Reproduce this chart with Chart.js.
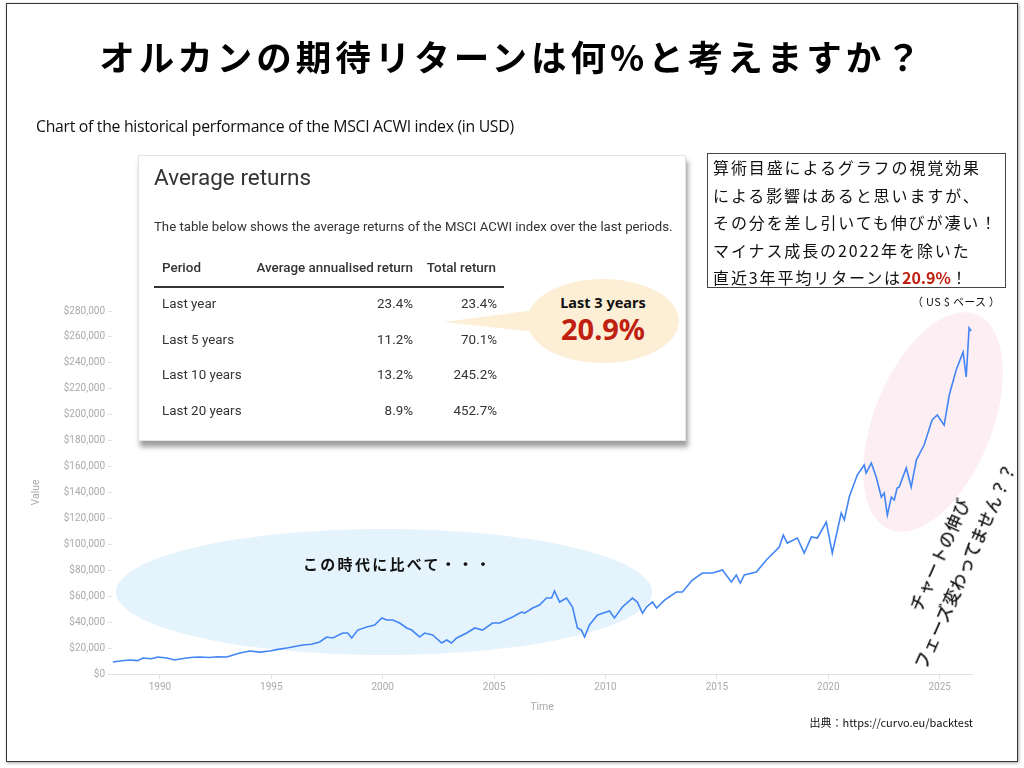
<!DOCTYPE html>
<html>
<head>
<meta charset="utf-8">
<script src="https://cdn.jsdelivr.net/npm/chart.js@4.4.1/dist/chart.umd.min.js"></script>
<style>
  body { margin: 0; background: #fff; }
  #page { position: relative; width: 1024px; height: 768px; overflow: hidden; background: #fff; }
  #frame { position: absolute; left: 6px; top: 3px; width: 1010px; height: 757px; border: 1.5px solid #333; box-shadow: 1px 1px 3px rgba(0,0,0,0.35); }
  #grafico { position: absolute; left: 0; top: 0; z-index: 1; }
  .jp { font-family: "Noto Sans CJK JP", sans-serif; }
  .over { position: absolute; z-index: 2; }
  .ellipse { position: absolute; border-radius: 50%; z-index: 0; }
  #titulo { left: 0; width: 1024px; top: 30px; text-align: center; font-size: 35.5px; font-weight: 700; letter-spacing: 4px; color: #000; }
  #subtitulo { left: 36px; top: 115px; font-family: "Open Sans", sans-serif; font-size: 15.8px; color: #111; letter-spacing: -0.3px; }
  #tabela { left: 138px; top: 155px; width: 546px; height: 284px; background: #fff; border: 1px solid #e4e4e4;
    box-shadow: 2px 6px 5px rgba(0,0,0,0.38); font-family: Roboto, sans-serif; color: #333; }
  #tabela .h { position: absolute; left: 15px; top: 8px; font-size: 22.5px; color: #333; }
  #tabela .d { position: absolute; left: 15px; top: 63px; font-size: 13.2px; }
  #tabela .c { position: absolute; font-size: 13.4px; white-space: nowrap; }
  #tabela .r { text-align: right; }
  #callout { left: 527px; top: 279px; width: 152px; height: 84px; background: #fdefd6; border-radius: 50%; z-index: 3; }
  #cauda { left: 440px; top: 305px; z-index: 3; }
  #caixa { left: 707px; top: 153px; width: 299px; height: 135px; border: 1.5px solid #444; background: #fff; font-size: 16px; letter-spacing: 1.9px; line-height: 27.6px; padding: 0 0 0 5px; box-sizing: border-box; color: #111; }
  .verm { color: #c0200f; font-weight: 700; letter-spacing: 0; }
  #rodape { right: 51px; top: 714px; font-size: 11px; color: #111; }
</style>
</head>
<body>
<div id="page">
  <div id="frame"></div>
  <div class="ellipse" style="left:116px; top:529px; width:536px; height:126px; background:#e5f3fd;"></div>
  <div class="ellipse" style="left:874px; top:306px; width:118px; height:232px; background:#fdeef4; transform: rotate(22deg);"></div>
  <canvas id="grafico" width="1024" height="768"></canvas>

  <div id="titulo" class="over jp">オルカンの期待リターンは何%と考えますか？</div>
  <div id="subtitulo" class="over">Chart of the historical performance of the MSCI ACWI index (in USD)</div>

  <div id="tabela" class="over"></div>

  <svg id="cauda" class="over" width="100" height="40"><polygon points="3,17 95,5 95,27" fill="#fdefd6"/></svg>
  <div id="callout" class="over">
    <div style="position:absolute;left:0;width:152px;top:13px;text-align:center;font-family:'Noto Sans',sans-serif;font-weight:700;font-size:14.5px;color:#111;">Last 3 years</div>
    <div style="position:absolute;left:0;width:152px;top:30px;text-align:center;font-family:'Noto Sans',sans-serif;font-weight:700;font-size:29px;color:#c0200f;">20.9%</div>
  </div>

  <div id="caixa" class="over jp">算術目盛によるグラフの視覚効果<br>による影響はあると思いますが、<br>その分を差し引いても伸びが凄い！<br>マイナス成長の2022年を除いた<br>直近3年平均リターンは<span class="verm">20.9%</span>！</div>
  <div class="over jp" style="left:912px; top:293px; font-size:11px; color:#111; letter-spacing:0.3px;">（ US $ ベース ）</div>

  <div class="over jp" style="left:303px; top:553px; font-size:15px; font-weight:700; letter-spacing:2.3px; color:#111;">この時代に比べて・・・</div>

  <div class="over jp" style="left:802px; top:532px; width:300px; text-align:center; font-size:16.5px; font-weight:500; line-height:28px; letter-spacing:0.9px; color:#111; transform: rotate(-66deg);">チャートの伸び<br>フェーズ変わってません？？</div>

  <div id="rodape" class="over jp">出典：https://curvo.eu/backtest</div>
</div>

<script>
// MSCI ACWI (USD): ano decimal e valor
const anos = [1987.89, 1988.3, 1988.65, 1989.0, 1989.24, 1989.6, 1989.91, 1990.31, 1990.67, 1990.9, 1991.21, 1991.5, 1991.79,
  1992.2, 1992.6, 1993.0, 1993.59, 1994.04, 1994.5, 1994.93, 1995.3, 1995.7, 1996.41, 1996.8, 1997.17, 1997.49, 1997.76,
  1998.21, 1998.43, 1998.61, 1998.88, 1999.28, 1999.64, 1999.96, 2000.18, 2000.45, 2000.76, 2001.08, 2001.3, 2001.66,
  2001.88, 2002.24, 2002.65, 2002.87, 2003.09, 2003.32, 2003.77, 2004.13, 2004.48, 2004.93,
  2005.25, 2005.83, 2006.23, 2006.37, 2006.73, 2007.04, 2007.35, 2007.58, 2007.71, 2007.94,
  2008.25, 2008.52, 2008.74, 2008.92, 2009.06, 2009.28, 2009.64, 2010.18, 2010.4, 2010.76,
  2011.21, 2011.43, 2011.66, 2011.84, 2012.11, 2012.29, 2012.65, 2013.18, 2013.45, 2013.9,
  2014.35, 2014.8, 2015.25, 2015.65, 2015.87, 2016.05, 2016.23, 2016.77, 2017.22, 2017.8,
  2017.98, 2018.16, 2018.61, 2018.92, 2019.24, 2019.51, 2019.91, 2020.18, 2020.58, 2020.72,
  2020.94, 2021.3, 2021.61, 2021.7, 2021.93, 2022.15, 2022.38, 2022.51, 2022.65, 2022.83,
  2022.96, 2023.09, 2023.18, 2023.5, 2023.72, 2023.95, 2024.3, 2024.66, 2024.89, 2025.2,
  2025.43, 2025.74, 2026.05, 2026.19, 2026.32, 2026.41];
const valores = [9300, 10200, 10800, 10300, 12300, 11800, 13100, 12300, 10800, 11600, 12300, 12900, 13100,
  12700, 13300, 13100, 16200, 17700, 16900, 17700, 19000, 20000, 22400, 23000, 24700, 28500, 27800,
  31600, 31600, 27800, 33900, 36300, 37800, 43200, 41700, 41700, 39300, 35500, 33900, 28500,
  31600, 30100, 23900, 26200, 23900, 27800, 31600, 35500, 33900, 39300,
  39300, 44000, 47800, 47000, 50900, 53200, 58600, 58600, 64000, 55500,
  58600, 51700, 35500, 33900, 28500, 37800, 45500, 48600, 43200, 51700,
  58600, 55500, 47000, 51700, 55500, 50900, 57000, 63200, 63200, 72500,
  77900, 77900, 80200, 71000, 76400, 70200, 76400, 78700, 88000, 98000,
  107200, 101000, 104900, 93300, 105700, 104900, 117200, 93300, 124200, 118800,
  136500, 153500, 161200, 155000, 162700, 152000, 136500, 139600, 122600, 136500,
  134200, 143500, 144200, 158900, 144200, 165000, 176600, 195900, 199800, 192000,
  215200, 234500, 248400, 229100, 266900, 264600];
const anosTicks = [1990, 1995, 2000, 2005, 2010, 2015, 2020, 2025];

const periodos = ["Last year", "Last 5 years", "Last 10 years", "Last 20 years"];
const anualizado = ["23.4%", "11.2%", "13.2%", "8.9%"];
const total = ["23.4%", "70.1%", "245.2%", "452.7%"];

// tabela "Average returns"
var tabela = document.getElementById("tabela");
var html = '<div class="h">Average returns</div>' +
  '<div class="d">The table below shows the average returns of the MSCI ACWI index over the last periods.</div>' +
  '<div class="c" style="left:23px;top:104px;font-weight:500;">Period</div>' +
  '<div class="c r" style="right:272px;top:104px;font-weight:500;">Average annualised return</div>' +
  '<div class="c r" style="right:189px;top:104px;font-weight:500;">Total return</div>' +
  '<div style="position:absolute;left:15px;top:130px;width:350px;height:2px;background:#333;"></div>';
for (let i = 0; i < periodos.length; i++) {
  let linhaTop = 140 + i * 35.7;
  html += `<div class="c" style="left:23px;top:${linhaTop}px;">${periodos[i]}</div>` +
    `<div class="c r" style="right:272px;top:${linhaTop}px;">${anualizado[i]}</div>` +
    `<div class="c r" style="right:188px;top:${linhaTop}px;">${total[i]}</div>`;
}
tabela.innerHTML = html;

Chart.defaults.font.family = "Roboto, sans-serif";

const config_linha = {
  type: "line",
  data: {
    datasets: [{
      data: anos.map((a, i) => ({ x: a, y: valores[i] })),
      borderColor: "#4285f4",
      borderWidth: 1.6,
      pointRadius: 0,
      tension: 0,
      fill: false,
    }],
  },
  options: {
    responsive: false,
    animation: false,
    layout: { padding: { left: 30, right: 52, top: 311, bottom: 50 } },
    plugins: { legend: { display: false }, tooltip: { enabled: false } },
    scales: {
      x: {
        type: "linear",
        min: 1987.85,
        max: 2026.45,
        afterBuildTicks: (s) => { s.ticks = anosTicks.map((v) => ({ value: v })); },
        afterFit: (s) => { s.height = 44; },
        ticks: { color: "#aaa", font: { size: 10 }, padding: 2, callback: (v) => String(v) },
        grid: { drawOnChartArea: false, color: "#e0e0e0", tickLength: 5 },
        border: { display: true, color: "#e0e0e0" },
        title: { display: true, text: "Time", color: "#aaa", font: { size: 10.5 }, padding: { top: 4, bottom: 4 } },
      },
      y: {
        min: 0,
        max: 280000,
        afterFit: (s) => { s.width = 82; },
        ticks: { stepSize: 20000, color: "#aaa", font: { size: 10 }, padding: 3,
          callback: (v) => "$" + v.toLocaleString("en-US") },
        grid: { drawOnChartArea: false, color: "#e0e0e0", tickLength: 4 },
        border: { display: false },
        title: { display: true, text: "Value", color: "#aaa", font: { size: 10.5 }, padding: 0 },
      },
    },
  },
};

var myChart = new Chart(document.getElementById("grafico"), config_linha);
</script>
</body>
</html>
